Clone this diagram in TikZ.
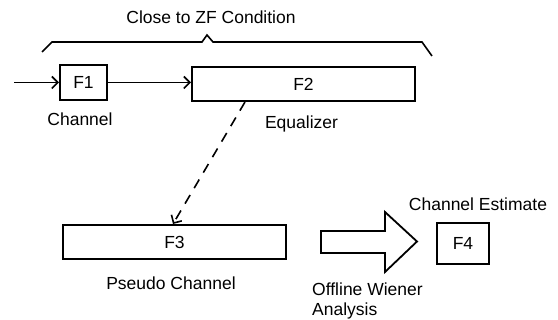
\documentclass[tikz,border=0pt]{standalone}
\usepackage{fontspec}
\setmainfont{Liberation Sans}
\usetikzlibrary{arrows.meta,calc}
\tikzset{
  x=1pt, y=-1pt,
  every node/.style={font=\fontsize{17.5}{20}\selectfont, inner sep=0pt},
  blk/.style={draw, line width=2pt, minimum width=#1, anchor=center},
  conn/.style={line width=1.6pt, -{Straight Barb[length=6pt,width=12pt,line width=1.6pt]}},
  lbl/.style={text=black},
}
\begin{document}
\begin{tikzpicture}
\useasboundingbox (0,0) rectangle (558,320);
% boxes
\node[blk=47pt, minimum height=35pt] (F1) at (83.5,82.5) {F1};
\node[blk=223pt, minimum height=34pt] (F2) at (303.5,84) {F2};
\node[blk=223pt, minimum height=34pt] (F3) at (174.5,242) {F3};
\node[blk=52pt, minimum height=41pt] (F4) at (463,243.5) {F4};
% labels
\node[lbl] (top) at (211,17) {Close to ZF Condition};
\node[lbl] (lch) at (80,119) {Channel};
\node[lbl] (leq) at (301.5,124) {Equalizer};
\node[lbl] (lps) at (171,283) {Pseudo Channel};
\node[lbl] (lce) at (478,204) {Channel Estimate};
\node[lbl, align=left, anchor=north west] (low) at (312,283) {Offline Wiener\\Analysis};
% brace
\draw[line width=1.6pt] (42,52) -- (52,42) -- (202,42) -- (207,35) -- (213,42) -- (422,42) -- (432,56);
% connectors
\coordinate (in) at (14,82.5);
\draw[conn] (in) -- (F1.west);
\draw[conn] (F1.east) -- (F1.east -| F2.west);
\draw[conn, dash pattern=on 10pt off 8pt] ([xshift=54pt]F2.south west) -- ([xshift=111pt]F3.north west);
% big arrow
\draw[line width=1.8pt, line join=miter] (321,231) -- (385,231) -- (385,212) -- (417,241.5) -- (385,272) -- (385,253) -- (321,253) -- cycle;
\end{tikzpicture}
\end{document}
